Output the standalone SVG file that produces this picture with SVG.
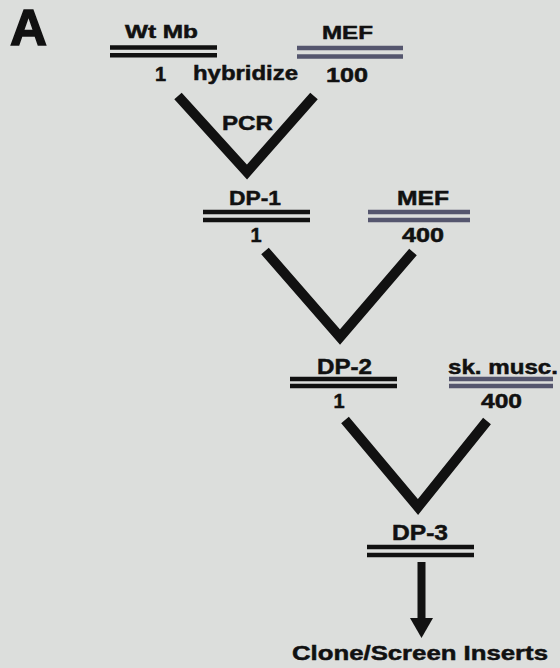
<svg xmlns="http://www.w3.org/2000/svg" width="560" height="668" viewBox="0 0 560 668">
<style>
text{font-family:"Liberation Sans",Arial,Helvetica,sans-serif;font-weight:bold;fill:#111;stroke:#111;stroke-width:0.5;font-size:19px}
.blk{stroke:#111;stroke-width:4.5}
.mef{stroke:#55566e;stroke-width:4.5}
.v{fill:none;stroke:#111;stroke-width:10;stroke-linejoin:miter;stroke-linecap:butt;stroke-miterlimit:10}
.c{text-anchor:middle}
</style>
<rect width="560" height="668" fill="#dcdedc"/>
<text x="10" y="45" style="font-size:50px;stroke-width:1.5" textLength="37" lengthAdjust="spacingAndGlyphs">A</text>

<g id="wtmb">
<text x="125" y="38" style="font-size:18px" textLength="73" lengthAdjust="spacingAndGlyphs">Wt Mb</text>
<line class="blk" x1="110" y1="47.5" x2="217" y2="47.5"/>
<line class="blk" x1="110" y1="55.2" x2="217" y2="55.2"/>
<text class="c" x="160.5" y="81" style="font-size:20px">1</text>
</g>

<g id="mef1">
<text x="322" y="39" textLength="51" lengthAdjust="spacingAndGlyphs">MEF</text>
<line class="mef" x1="297" y1="48" x2="403" y2="48"/>
<line class="mef" x1="297" y1="56.5" x2="403" y2="56.5"/>
<text x="326" y="82" style="font-size:20px" textLength="42" lengthAdjust="spacingAndGlyphs">100</text>
</g>

<g id="dp1">
<text x="229" y="205" style="font-size:21px" textLength="52" lengthAdjust="spacingAndGlyphs">DP-1</text>
<line class="blk" x1="203" y1="212" x2="310" y2="212"/>
<line class="blk" x1="203" y1="220" x2="310" y2="220"/>
<text class="c" x="256" y="242" style="font-size:20px">1</text>
</g>

<g id="mef2">
<text x="397" y="205" style="font-size:21px" textLength="52" lengthAdjust="spacingAndGlyphs">MEF</text>
<line class="mef" x1="368" y1="212" x2="470" y2="212"/>
<line class="mef" x1="368" y1="220" x2="470" y2="220"/>
<text x="402" y="242" style="font-size:20px" textLength="42" lengthAdjust="spacingAndGlyphs">400</text>
</g>

<g id="dp2">
<text x="317" y="374" style="font-size:22px" textLength="55" lengthAdjust="spacingAndGlyphs">DP-2</text>
<line class="blk" x1="290" y1="379" x2="397" y2="379"/>
<line class="blk" x1="290" y1="386" x2="397" y2="386"/>
<text class="c" x="339" y="408" style="font-size:20px">1</text>
</g>

<g id="skmusc">
<text x="448" y="374" style="font-size:21px" textLength="110" lengthAdjust="spacingAndGlyphs">sk. musc.</text>
<line class="mef" x1="449" y1="379" x2="553" y2="379"/>
<line class="mef" x1="449" y1="386" x2="553" y2="386"/>
<text x="481" y="408" style="font-size:20px" textLength="41" lengthAdjust="spacingAndGlyphs">400</text>
</g>

<g id="dp3">
<text x="392" y="540" style="font-size:22px" textLength="56" lengthAdjust="spacingAndGlyphs">DP-3</text>
<line class="blk" x1="367" y1="547" x2="474" y2="547"/>
<line class="blk" x1="367" y1="555" x2="474" y2="555"/>
</g>

<g id="result">
<text x="292" y="660" style="font-size:21px" textLength="256" lengthAdjust="spacingAndGlyphs">Clone/Screen Inserts</text>
</g>

<g id="connectors">
<path class="v" d="M178,96 L247,172 L314,96"/>
<text x="222" y="130" style="font-size:21px" textLength="51" lengthAdjust="spacingAndGlyphs">PCR</text>
<text x="193" y="80" style="font-size:20px" textLength="105" lengthAdjust="spacingAndGlyphs">hybridize</text>
<path class="v" d="M265,251 L340,337 L413,252"/>
<path class="v" d="M345,420 L418,507 L487,421"/>
<line x1="421.5" y1="562" x2="421.5" y2="622" stroke="#111" stroke-width="8"/>
<polygon points="410,618 433,618 421.5,638" fill="#111"/>
</g>
</svg>
